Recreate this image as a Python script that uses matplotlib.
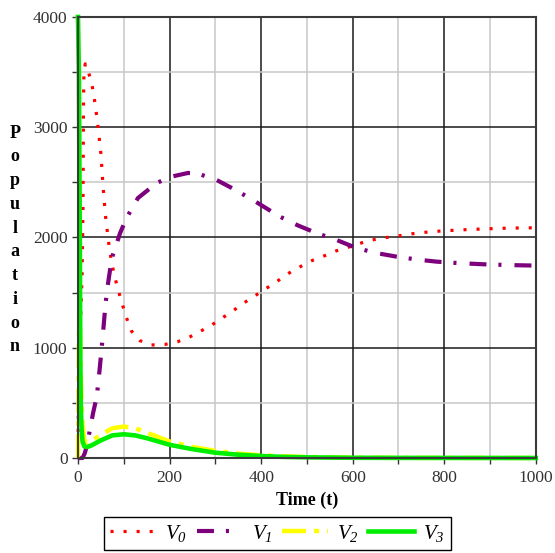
import matplotlib.pyplot as plt
from matplotlib.ticker import MultipleLocator

plt.rcParams['font.family'] = ['Liberation Serif', 'DejaVu Serif']
# legend labels are the only math text: set it all in italic serif
plt.rcParams['mathtext.fontset'] = 'custom'
plt.rcParams['mathtext.rm'] = 'Liberation Serif:italic'
plt.rcParams['mathtext.it'] = 'Liberation Serif:italic'
plt.rcParams['lines.scale_dashes'] = False

# model output, sampled from the solution curves
t_v0 = [0, 1, 3, 6, 9, 11, 12, 13, 16, 20, 25, 30, 35, 40, 45, 50, 55, 60, 65, 70, 77, 85, 94, 105,
        117, 135, 160, 190, 218, 245, 266, 292, 314, 336, 361, 386, 405, 430, 448, 470, 492, 514,
        539, 565, 590, 616, 641, 670, 699, 732, 758, 790, 820, 852, 885, 914, 943, 980, 1000]
v0 = [0, 600, 1000, 1300, 1650, 2300, 3200, 3500, 3575, 3540, 3470, 3400, 3280, 3130, 2960, 2760,
      2450, 2200, 2020, 1860, 1705, 1565, 1433, 1282, 1150, 1065, 1025, 1030, 1055, 1100, 1146,
      1206, 1267, 1327, 1403, 1469, 1524, 1585, 1644, 1700, 1750, 1796, 1835, 1880, 1911, 1947,
      1977, 1998, 2014, 2035, 2047, 2058, 2065, 2072, 2077, 2082, 2085, 2087, 2088]

t_v1 = [0, 10, 15, 20, 26, 33, 41, 46, 50, 54, 59, 63, 70, 74, 82, 92, 106, 131, 172, 201, 240,
        260, 303, 340, 382, 441, 480, 521, 565, 608, 650, 696, 740, 783, 830, 885, 940, 1000]
v1 = [0, 0, 45, 120, 254, 408, 556, 750, 920, 1100, 1342, 1508, 1705, 1814, 1914, 2040, 2177,
      2358, 2494, 2549, 2585, 2582, 2521, 2440, 2340, 2189, 2110, 2040, 1977, 1905, 1860, 1826,
      1800, 1781, 1768, 1757, 1750, 1745]

t_v2 = [0, 1, 2, 3, 4, 5, 7, 10, 14, 20, 30, 50, 75, 100, 125, 150, 200, 250, 300, 350, 400,
        450, 500, 600, 700, 1000]
v2 = [0, 600, 1100, 1400, 1300, 1000, 600, 300, 160, 140, 155, 210, 270, 285, 270, 230, 150, 100,
      65, 40, 25, 15, 9, 3, 1, 0]

t_v3 = [0, 2, 4, 5, 6, 8, 10, 14, 20, 30, 50, 75, 100, 125, 150, 200, 250, 300, 350, 400, 450,
        500, 600, 700, 1000]
v3 = [4000, 3500, 2000, 1000, 500, 250, 150, 105, 100, 115, 160, 205, 215, 205, 180, 120, 80, 48,
      30, 18, 10, 6, 2, 1, 0]

labels = [r'$V_0$', r'$V_1$', r'$V_2$', r'$V_3$']

fig = plt.figure(figsize=(5.55, 5.53), dpi=100)
ax = fig.add_axes([0.1405, 0.1718, 0.825, 0.7975])

ax.plot(t_v0, v0, color='#ff0000', lw=2.3, dashes=(2.2, 7.2), label=labels[0], clip_on=False)
ax.plot(t_v1, v1, color='#7d007d', lw=3.0, dashes=(12.2, 8.6, 2.2, 9.4), label=labels[1],
        clip_on=False)
ax.plot(t_v2, v2, color='#ffff00', lw=3.2, dashes=(17.3, 5.8, 3.6, 5.8), label=labels[2],
        clip_on=False)
ax.plot(t_v3, v3, color='#00ee00', lw=3.3, label=labels[3], clip_on=False)

ax.set_xlim(0, 1000)
ax.set_ylim(0, 4000)
ax.xaxis.set_major_locator(MultipleLocator(200))
ax.xaxis.set_minor_locator(MultipleLocator(100))
ax.yaxis.set_major_locator(MultipleLocator(1000))
ax.yaxis.set_minor_locator(MultipleLocator(500))
ax.grid(which='major', color='#1a1a1a', lw=1.1)
ax.grid(which='minor', color='#c8c8c8', lw=1.1)
ax.set_axisbelow(True)

ax.tick_params(which='both', direction='out', length=4, width=1, color='#333333',
               labelsize=12.5, labelcolor='#333333')
ax.tick_params(axis='x', pad=5)
for s in ax.spines.values():
    s.set_color('#3a3a3a')
    s.set_linewidth(1.5)

ax.set_xlabel('Time (t)', fontsize=13, fontweight='bold', labelpad=4)
fig.text(0.027, 0.566, '\n'.join('Population'), fontsize=13, fontweight='bold',
         ha='center', va='center', linespacing=1.52)

fig.legend(loc='upper center', bbox_to_anchor=(0.5, 0.066), ncol=4, fontsize=15,
           frameon=True, fancybox=False, edgecolor='black', framealpha=1, borderaxespad=0,
           handlelength=2.2, handletextpad=0.45, columnspacing=0.45, borderpad=0.3)

fig.savefig('out.png', dpi=100)
